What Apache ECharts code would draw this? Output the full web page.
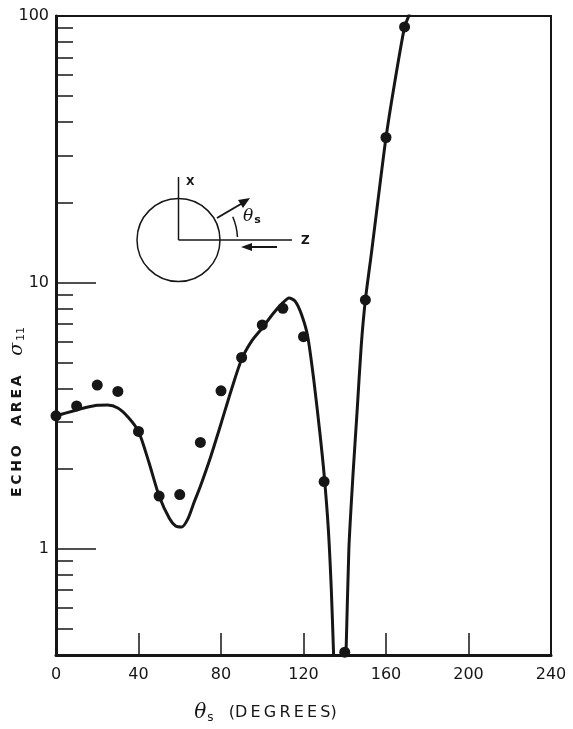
<!DOCTYPE html>
<html>
<head>
<meta charset="utf-8">
<script src="https://cdn.jsdelivr.net/npm/echarts@6/dist/echarts.min.js"></script>
<style>
html, body { margin: 0; padding: 0; background: #fff; }
#main { width: 573px; height: 729px; }
</style>
</head>
<body>
<div id="main"></div>
<script>
// measured points (theta_s in degrees, echo area sigma_11)
var dotTheta = [0, 10, 20, 30, 40, 50, 60, 70, 80, 90, 100, 110, 120, 130, 140, 150, 160, 169];
var dotSigma = [3.16, 3.44, 4.12, 3.9, 2.76, 1.58, 1.6, 2.51, 3.92, 5.23, 6.93, 8.0, 6.26, 1.79, 0.41, 8.6, 35, 91];

// theory curve, left branch (down to the null) and right branch
var curveThetaA = [0, 5, 10, 15, 20, 25, 30, 35, 40, 45, 50, 55, 58, 61, 64, 67, 70, 75, 80, 85, 90, 95, 100, 105, 110, 113, 116, 119, 122, 125, 128, 130, 132, 133.5, 134.6, 135.2];
var curveSigmaA = [3.16, 3.24, 3.32, 3.4, 3.46, 3.47, 3.38, 3.12, 2.76, 2.12, 1.58, 1.3, 1.22, 1.21, 1.3, 1.5, 1.72, 2.22, 2.95, 3.95, 5.15, 6.05, 6.75, 7.6, 8.4, 8.75, 8.5, 7.6, 6.3, 4.3, 2.7, 1.9, 1.2, 0.7, 0.4, 0.3];
var curveThetaB = [139.8, 140.6, 142, 144, 146, 148, 150, 153, 156, 160, 164, 169, 171, 172];
var curveSigmaB = [0.3, 0.4, 1.0, 1.9, 3.3, 5.8, 8.6, 13, 20, 35, 55, 91, 100, 108];

var yMajorTicks = [1, 10];
var yLabels = [1, 10, 100];
var yMinorTicks = [0.5, 0.6, 0.7, 0.8, 0.9, 2, 3, 4, 5, 6, 7, 8, 9, 20, 30, 40, 50, 60, 70, 80, 90];

var ink = '#161616';
var labelFont = 'DejaVu Sans';

var dots = dotTheta.map(function (t, i) { return [t, dotSigma[i]]; });
var curve = curveThetaA.map(function (t, i) { return [t, curveSigmaA[i]]; });
curve.push([137.5, null]);
curveThetaB.forEach(function (t, i) { curve.push([t, curveSigmaB[i]]); });

var chart = echarts.init(document.getElementById('main'));

var option = {
	animation: false,
	backgroundColor: '#fff',
	grid: {
		left: 56, right: 22, top: 16, bottom: 66,
		show: true, borderColor: ink, borderWidth: 2, backgroundColor: 'transparent'
	},
	xAxis: {
		type: 'value', min: 0, max: 240, interval: 40,
		axisLine: { show: true, onZero: false, lineStyle: { color: ink, width: 3 } },
		axisTick: { show: true, inside: true, length: 22, lineStyle: { color: ink, width: 1.5 } },
		axisLabel: { color: ink, fontFamily: labelFont, fontSize: 16, margin: 12 },
		splitLine: { show: false },
		name: '{t|θ}{s|s}{n|   (D\u2009E\u2009G\u2009R\u2009E\u2009E\u2009S)}',
		nameLocation: 'middle',
		nameGap: 47,
		nameTextStyle: {
			padding: [0, 76, 0, 0],
			rich: {
				t: { fontFamily: 'DejaVu Serif', fontStyle: 'italic', fontSize: 20, color: ink },
				s: { fontFamily: labelFont, fontSize: 12, color: ink, verticalAlign: 'bottom', padding: [10, 0, 0, 1] },
				n: { fontFamily: labelFont, fontSize: 16, color: ink }
			}
		}
	},
	yAxis: [{
		type: 'log', min: 0.4, max: 100, logBase: 10,
		axisLine: { show: true, onZero: false, lineStyle: { color: ink, width: 3 } },
		axisTick: { show: true, inside: true, length: 40, customValues: yMajorTicks, lineStyle: { color: ink, width: 1.5 } },
		axisLabel: { color: ink, fontFamily: labelFont, fontSize: 16, margin: 7, customValues: yLabels },
		splitLine: { show: false }
	}, {
		type: 'log', min: 0.4, max: 100, logBase: 10, position: 'left',
		axisLine: { show: false },
		axisTick: { show: true, inside: true, length: 17, customValues: yMinorTicks, lineStyle: { color: ink, width: 1.5 } },
		axisLabel: { show: false },
		splitLine: { show: false }
	}],
	graphic: [
		{ type: 'text', x: 17, y: 412, rotation: Math.PI / 2,
		  style: { text: 'E\u2009C\u2009H\u2009O    A\u2009R\u2009E\u2009A    {g|σ}{s|11}', fill: ink, font: '600 14px DejaVu Sans', align: 'center', verticalAlign: 'middle',
		    rich: { g: { font: 'italic 19px DejaVu Serif', fill: ink }, s: { font: '11px DejaVu Sans', fill: ink, verticalAlign: 'bottom', padding: [9, 0, 0, 2] } } } },
		// inset sketch of the sphere and the angles
		{ type: 'circle', shape: { cx: 178.5, cy: 240, r: 41.5 }, style: { fill: 'none', stroke: ink, lineWidth: 1.5 } },
		{ type: 'line', shape: { x1: 178.5, y1: 177, x2: 178.5, y2: 240 }, style: { stroke: ink, lineWidth: 1.5 } },
		{ type: 'line', shape: { x1: 178.5, y1: 240, x2: 292, y2: 240 }, style: { stroke: ink, lineWidth: 1.5 } },
		{ type: 'text', x: 186, y: 177, style: { text: 'X', font: 'bold 11px DejaVu Sans', fill: ink } },
		{ type: 'text', x: 301, y: 235, style: { text: 'Z', font: 'bold 12px DejaVu Sans', fill: ink } },
		{ type: 'line', shape: { x1: 217, y1: 218, x2: 246, y2: 201 }, style: { stroke: ink, lineWidth: 2 } },
		{ type: 'polygon', shape: { points: [[250, 198], [238, 200], [243, 208]] }, style: { fill: ink } },
		{ type: 'arc', shape: { cx: 178.5, cy: 240, r: 59, startAngle: -Math.PI / 6 + 0.12, endAngle: -0.05 }, style: { stroke: ink, lineWidth: 1.5, fill: 'none' } },
		{ type: 'text', x: 243, y: 207, style: { text: '{t|θ}{s|s}', fill: ink,
		    rich: { t: { font: 'italic 17px DejaVu Serif', fill: ink }, s: { font: 'bold 11px DejaVu Sans', fill: ink, verticalAlign: 'bottom', padding: [8, 0, 0, 1] } } } },
		{ type: 'line', shape: { x1: 249, y1: 247, x2: 277, y2: 247 }, style: { stroke: ink, lineWidth: 2 } },
		{ type: 'polygon', shape: { points: [[241, 247], [252, 243], [252, 251]] }, style: { fill: ink } }
	],
	series: [{
		type: 'line',
		data: curve,
		smooth: 0.25,
		connectNulls: false,
		showSymbol: false,
		clip: true,
		lineStyle: { color: ink, width: 3 },
		z: 3
	}, {
		type: 'scatter',
		data: dots,
		symbol: 'circle',
		symbolSize: 11,
		clip: false,
		itemStyle: { color: ink, opacity: 1 },
		z: 4
	}]
};

chart.setOption(option);
</script>
</body>
</html>
